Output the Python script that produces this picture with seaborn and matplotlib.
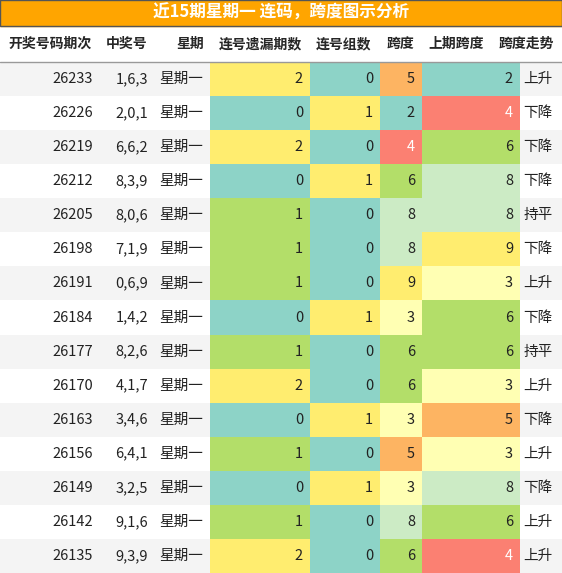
import matplotlib
matplotlib.use("Agg")
import matplotlib.pyplot as plt
import seaborn as sns
from matplotlib.patches import Rectangle

sns.set_style("white")
plt.rcParams['font.family'] = ['Noto Sans CJK SC', 'DejaVu Sans']

title = "近15期星期一 连码，跨度图示分析"
headers = ["开奖号码期次", "中奖号", "星期", "连号遗漏期数", "连号组数", "跨度", "上期跨度", "跨度走势"]
issues = [26233, 26226, 26219, 26212, 26205, 26198, 26191, 26184, 26177, 26170, 26163, 26156, 26149, 26142, 26135]
numbers = ["1,6,3", "2,0,1", "6,6,2", "8,3,9", "8,0,6", "7,1,9", "0,6,9", "1,4,2", "8,2,6", "4,1,7",
           "3,4,6", "6,4,1", "3,2,5", "9,1,6", "9,3,9"]
weekday = ["星期一"] * 15
miss = [2, 0, 2, 0, 1, 1, 1, 0, 1, 2, 0, 1, 0, 1, 2]
groups = [0, 1, 0, 1, 0, 0, 0, 1, 0, 0, 1, 0, 1, 0, 0]
span = [5, 2, 4, 6, 8, 8, 9, 3, 6, 6, 3, 5, 3, 8, 6]
prev_span = [2, 4, 6, 8, 8, 9, 3, 6, 6, 3, 5, 3, 8, 6, 4]
trend = ["上升", "下降", "下降", "下降", "持平", "下降", "上升", "下降", "持平", "上升", "下降", "上升", "下降", "上升", "上升"]

miss_col = {0: "#8DD3C7", 1: "#B3DE69", 2: "#FFED6F"}
group_col = {0: "#8DD3C7", 1: "#FFED6F"}
span_col = {2: "#8DD3C7", 3: "#FFFFB3", 4: "#FB8072", 5: "#FDB462", 6: "#B3DE69", 8: "#CCEBC5", 9: "#FFED6F"}

W, H = 562, 573
edges = [0, 100, 155, 210, 310, 380, 422, 520, 562]
head_x = [50, 127, 190, 260, 344, 400, 456, 526]
title_h, head_h, row_h = 26, 36, (H - 62) / 15

fig = plt.figure(figsize=(W / 100, H / 100), dpi=100)
ax = fig.add_axes([0, 0, 1, 1])
ax.set_xlim(0, W)
ax.set_ylim(H, 0)
ax.axis("off")

ax.add_patch(Rectangle((0, 0), W, title_h, color="#FFA500"))
ax.add_patch(Rectangle((0, 0), W, title_h, fill=False, ec="#555555", lw=1))
ax.text(W / 2, title_h / 2, title, color="white", fontsize=12, fontweight="bold", ha="center", va="center")

for j, h in enumerate(headers):
    ax.text(head_x[j], title_h + head_h / 2, h, fontsize=10, fontweight="bold", ha="center", va="center")
ax.plot([0, W], [62, 62], color="#999999", lw=1)

for i in range(15):
    y0 = 62 + i * row_h
    base = "#F4F4F4" if i % 2 == 0 else "white"
    ax.add_patch(Rectangle((0, y0), W, row_h, color=base, lw=0))
    vals = [issues[i], numbers[i], weekday[i], miss[i], groups[i], span[i], prev_span[i], trend[i]]
    cols = [None, None, None, miss_col[miss[i]], group_col[groups[i]], span_col[span[i]], span_col[prev_span[i]], None]
    for j, v in enumerate(vals):
        tc = "#222222"
        if cols[j]:
            ax.add_patch(Rectangle((edges[j], y0), edges[j + 1] - edges[j], row_h, color=cols[j], lw=0))
            if cols[j] == "#FB8072":
                tc = "white"
        pad = 9 if j == 7 else 7
        ax.text(edges[j + 1] - pad, y0 + row_h / 2, str(v), fontsize=10.5, color=tc, ha="right", va="center")

fig.savefig("out.png", dpi=100)
